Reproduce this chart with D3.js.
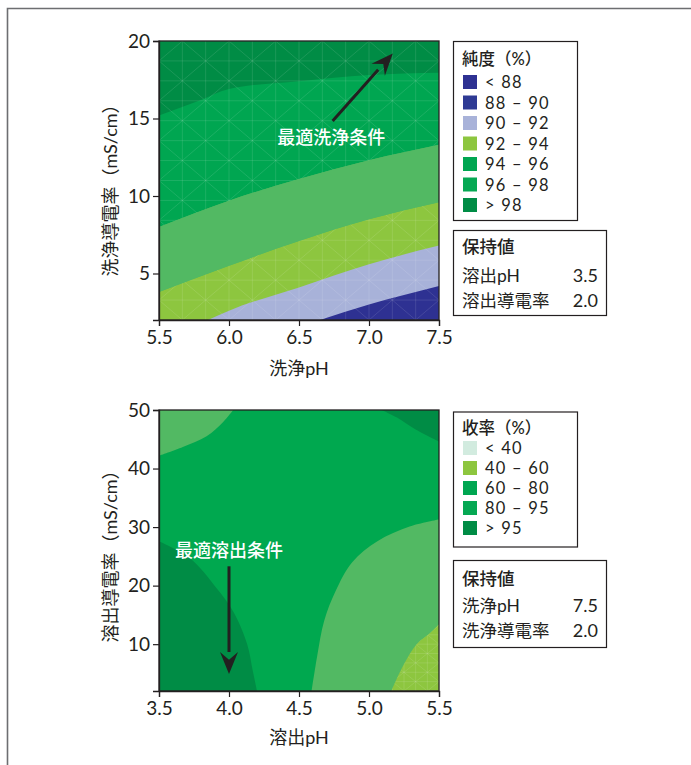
<!DOCTYPE html>
<html>
<head>
<meta charset="utf-8">
<script src="https://cdn.jsdelivr.net/npm/d3@7"></script>
<style>
  html, body { margin: 0; padding: 0; background: #fff; }
  svg { display: block; font-family: "Lato", "Noto Sans CJK JP", "Noto Sans", sans-serif; }
</style>
</head>
<body>
<svg id="chart" width="691" height="765"></svg>
<script>
// ---------- 純度 (洗浄pH × 洗浄導電率) ----------
const purityLabels = ["< 88", "88 – 90", "90 – 92", "92 – 94", "94 – 96", "96 – 98", "> 98"];
const purityXTicks = [5.5, 6.0, 6.5, 7.0, 7.5];
const purityYTicks = [5, 10, 15, 20];
// contour boundaries, [洗浄pH, 洗浄導電率]
const purityEdge98 = [[5.5, 15.2], [5.8, 16.2], [6.0, 16.9], [6.5, 17.4], [7.0, 17.8], [7.5, 17.95]];
const purityEdge96 = [[5.5, 8.0], [6.0, 9.7], [6.5, 11.1], [7.0, 12.3], [7.5, 13.3]];
const purityEdge94 = [[5.5, 3.8], [6.0, 5.5], [6.5, 7.1], [7.0, 8.5], [7.5, 9.6]];
const purityEdge92 = [[5.85, 2], [6.0, 2.6], [6.5, 4.1], [7.0, 5.6], [7.5, 6.8]];
const purityEdge90 = [[6.65, 2], [7.0, 3.0], [7.5, 4.2]];
const purityHeld = [["溶出pH", "3.5"], ["溶出導電率", "2.0"]];

// ---------- 收率 (溶出pH × 溶出導電率) ----------
const yieldLabels = ["< 40", "40 – 60", "60 – 80", "80 – 95", "> 95"];
const yieldXTicks = [3.5, 4.0, 4.5, 5.0, 5.5];
const yieldYTicks = [10, 20, 30, 40, 50];
// contour boundaries, [溶出pH, 溶出導電率]
const yieldTopLeft = [[3.5, 42.2], [3.67, 43.7], [3.84, 45.5], [3.96, 48.0], [4.03, 50]];
const yieldTopRight = [[5.09, 50], [5.2, 48.7], [5.33, 46.7], [5.5, 44.6]];
const yieldBottomLeft = [[3.5, 27.6], [3.72, 24.7], [3.91, 19.6], [4.03, 15.6], [4.13, 10.0], [4.17, 5.4], [4.2, 2]];
const yieldRight = [[4.59, 2], [4.63, 8.0], [4.68, 14.0], [4.76, 19.0], [4.88, 24.0], [5.06, 27.6], [5.29, 30.1], [5.5, 31.3]];
const yieldBottomRight = [[5.16, 2], [5.25, 6.6], [5.34, 10.0], [5.44, 12.0], [5.5, 13.4]];
const yieldHeld = [["洗浄pH", "7.5"], ["洗浄導電率", "2.0"]];

// ---------- styles ----------
const C = {
  navy: "#2e3192", navy2: "#2e3a94", lavender: "#a8b2d9", lime: "#8dc63f",
  light: "#52b963", bright: "#00a651", dark: "#008c45", pale: "#d2ebdf", ink: "#231f20"
};
const purityColors = [C.navy, C.navy2, C.lavender, C.lime, C.bright, "#05a853", C.dark];
const yieldColors = [C.pale, C.lime, C.bright, "#05a853", C.dark];

const svg = d3.select("#chart");

// outer frame
svg.append("path")
  .attr("d", "M7.5,765V8.5H691")
  .attr("fill", "none").attr("stroke", "#6d6e71").attr("stroke-width", 1.6);

const smooth = (x, y) => d3.line().x(d => x(d[0])).y(d => y(d[1])).curve(d3.curveMonotoneX);
const smoothY = (x, y) => d3.line().x(d => x(d[0])).y(d => y(d[1])).curve(d3.curveCatmullRom.alpha(0.5));

// region lying under a boundary line, closed along the bottom edge
function underPath(x, y, pts) {
  const x0 = x.domain()[0], x1 = x.domain()[1], y0 = y.domain()[0];
  const first = pts[0];
  let d = smooth(x, y)(pts) + `L${x(x1)},${y(y0)}L${x(first[0])},${y(y0)}`;
  if (first[1] > y0) d += `L${x(x0)},${y(y0)}`;
  return d + "Z";
}
// band between an upper and a lower boundary spanning the full width
function bandPath(x, y, upper, lower) {
  const lo = smooth(x, y)(lower.slice().reverse().map(d => d)).replace(/^M/, "L");
  return smooth(x, y)(upper) + lo + "Z";
}
// region enclosed by a boundary line and plot corners
function cornerPath(x, y, pts, corners) {
  return smoothY(x, y)(pts) + corners.map(c => `L${x(c[0])},${y(c[1])}`).join("") + "Z";
}
// faint triangulation mesh of the fitted surface
function mesh(p, x, y, nx, ny) {
  const [xa, xb] = x.domain(), [ya, yb] = y.domain();
  const xs = d3.range(nx + 1).map(i => xa + (xb - xa) * i / nx);
  const ys = d3.range(ny + 1).map(j => ya + (yb - ya) * j / ny);
  const segs = [];
  ys.forEach(v => segs.push([[xa, v], [xb, v]]));
  xs.forEach(u => segs.push([[u, ya], [u, yb]]));
  for (let i = 0; i < nx; i++) for (let j = 0; j < ny; j++) {
    segs.push((i + j) % 2 ? [[xs[i], ys[j]], [xs[i + 1], ys[j + 1]]] : [[xs[i], ys[j + 1]], [xs[i + 1], ys[j]]]);
  }
  p.append("g").selectAll("line").data(segs).join("line")
    .attr("x1", d => x(d[0][0])).attr("y1", d => y(d[0][1]))
    .attr("x2", d => x(d[1][0])).attr("y2", d => y(d[1][1]))
    .attr("stroke", "#fff").attr("stroke-opacity", 0.16).attr("stroke-width", 0.7);
}

function panel(opt) {
  const x = d3.scaleLinear().domain(opt.xDomain).range([159, 439]);
  const y = d3.scaleLinear().domain(opt.yDomain).range(opt.yRange);
  const g = svg.append("g");
  const clipId = opt.id + "-clip";
  g.append("clipPath").attr("id", clipId)
    .append("rect").attr("x", x.range()[0]).attr("y", y.range()[1])
    .attr("width", x.range()[1] - x.range()[0]).attr("height", y.range()[0] - y.range()[1]);
  const plot = g.append("g").attr("clip-path", `url(#${clipId})`);
  opt.draw(plot, x, y);

  // frame
  g.append("rect").attr("x", x.range()[0]).attr("y", y.range()[1])
    .attr("width", x.range()[1] - x.range()[0]).attr("height", y.range()[0] - y.range()[1])
    .attr("fill", "none").attr("stroke", C.ink).attr("stroke-width", 1.3);

  const xa = g.append("g").attr("transform", `translate(0,${y.range()[0]})`)
    .call(d3.axisBottom(x).tickValues(opt.xTicks).tickFormat(d3.format(".1f")).tickSize(6).tickPadding(5));
  const ya = g.append("g").attr("transform", `translate(${x.range()[0]},0)`)
    .call(d3.axisLeft(y).tickValues(opt.yTicks).tickFormat(d3.format("d")).tickSize(6).tickPadding(3));
  [xa, ya].forEach(a => {
    a.select(".domain").attr("stroke", C.ink).attr("stroke-width", 1.3);
    a.selectAll(".tick line").attr("stroke", C.ink).attr("stroke-width", 1.2);
    a.selectAll(".tick text").attr("fill", C.ink).attr("font-size", 19)
      .attr("font-family", '"Lato", "Noto Sans CJK JP", sans-serif');
  });

  g.append("text").attr("x", 299).attr("y", opt.xTitleY)
    .attr("text-anchor", "middle").attr("dominant-baseline", "central")
    .attr("font-size", 18).attr("fill", C.ink).text(opt.xTitle);
  g.append("text")
    .attr("transform", `translate(110,${opt.yTitleY}) rotate(-90)`)
    .attr("text-anchor", "middle").attr("dominant-baseline", "central")
    .attr("font-size", 18).attr("fill", C.ink).text(opt.yTitle);

  // annotation arrow
  const a = opt.arrow;
  const x1 = x(a.from[0]), y1 = y(a.from[1]), x2 = x(a.to[0]), y2 = y(a.to[1]);
  const ang = Math.atan2(y2 - y1, x2 - x1);
  const len = 22, half = 9;
  const bx = x2 - len * Math.cos(ang), by = y2 - len * Math.sin(ang);
  g.append("line").attr("x1", x1).attr("y1", y1).attr("x2", bx).attr("y2", by)
    .attr("stroke", C.ink).attr("stroke-width", 3);
  g.append("path")
    .attr("d", `M${x2},${y2}L${bx + half * Math.sin(ang)},${by - half * Math.cos(ang)}` +
      `L${bx + 0.35 * len * Math.cos(ang)},${by + 0.35 * len * Math.sin(ang)}` +
      `L${bx - half * Math.sin(ang)},${by + half * Math.cos(ang)}Z`)
    .attr("fill", C.ink);
  g.append("text").attr("x", x(a.label[0])).attr("y", y(a.label[1]))
    .attr("text-anchor", "middle").attr("dominant-baseline", "central")
    .attr("font-family", '"Noto Sans CJK JP", sans-serif')
    .attr("font-size", 18).attr("font-weight", 500).attr("fill", "#fff").text(a.text);

  // legend boxes
  const L = opt.legend;
  const lg = svg.append("g");
  lg.append("rect").attr("x", 453.5).attr("y", L.top + 0.5).attr("width", 124).attr("height", L.height)
    .attr("fill", "#fff").attr("stroke", C.ink).attr("stroke-width", 1.2);
  lg.append("text").attr("x", 462).attr("y", L.titleY).attr("dominant-baseline", "central")
    .attr("font-size", 16.5).attr("font-weight", 500).attr("fill", C.ink).text(L.title);
  L.labels.forEach((t, i) => {
    const cy = L.firstY + i * L.step;
    lg.append("rect").attr("x", 463).attr("y", cy - 7).attr("width", 14).attr("height", 14).attr("fill", L.colors[i]);
    lg.append("text").attr("x", 485).attr("y", cy).attr("dominant-baseline", "central")
      .attr("font-size", 16.5).attr("letter-spacing", 1.2).attr("fill", C.ink).text(t);
  });

  const H = opt.held;
  lg.append("rect").attr("x", 453.5).attr("y", H.top + 0.5).attr("width", 153).attr("height", H.height)
    .attr("fill", "#fff").attr("stroke", C.ink).attr("stroke-width", 1.2);
  lg.append("text").attr("x", 462).attr("y", H.rows[0]).attr("dominant-baseline", "central")
    .attr("font-size", 17.5).attr("font-weight", 500).attr("fill", C.ink).text("保持値");
  H.values.forEach((r, i) => {
    lg.append("text").attr("x", 462).attr("y", H.rows[i + 1]).attr("dominant-baseline", "central")
      .attr("font-size", 17.5).attr("fill", C.ink).text(r[0]);
    lg.append("text").attr("x", 598).attr("y", H.rows[i + 1]).attr("dominant-baseline", "central")
      .attr("text-anchor", "end").attr("font-size", 18).attr("fill", C.ink).text(r[1]);
  });
}

panel({
  id: "purity",
  xDomain: [5.5, 7.5], yDomain: [2, 20], yRange: [320, 41],
  xTicks: purityXTicks, yTicks: purityYTicks,
  xTitle: "洗浄pH", xTitleY: 368, yTitle: "洗浄導電率（mS/cm）", yTitleY: 186,
  draw(p, x, y) {
    p.append("rect").attr("x", 159).attr("y", 41).attr("width", 280).attr("height", 279).attr("fill", C.dark);
    [[purityEdge98, C.bright], [purityEdge96, C.light], [purityEdge94, C.lime],
     [purityEdge92, C.lavender], [purityEdge90, C.navy]].forEach(([pts, col]) => {
      p.append("path").attr("d", underPath(x, y, pts)).attr("fill", col);
    });
    mesh(p, x, y, 12, 14);
    // the 94–96 band is drawn clean over the mesh
    p.append("path").attr("d", bandPath(x, y, purityEdge96, purityEdge94)).attr("fill", C.light);
  },
  arrow: { from: [6.74, 14.84], to: [7.17, 19.2], label: [6.73, 13.85], text: "最適洗浄条件" },
  legend: { top: 41, height: 179, title: "純度（%）", titleY: 59, firstY: 82, step: 20.5,
            labels: purityLabels, colors: purityColors },
  held: { top: 230, height: 85, rows: [246.5, 275, 300], values: purityHeld }
});

panel({
  id: "yield",
  xDomain: [3.5, 5.5], yDomain: [2, 50], yRange: [691, 410],
  xTicks: yieldXTicks, yTicks: yieldYTicks,
  xTitle: "溶出pH", xTitleY: 737, yTitle: "溶出導電率（mS/cm）", yTitleY: 552,
  draw(p, x, y) {
    p.append("rect").attr("x", 159).attr("y", 410).attr("width", 280).attr("height", 281).attr("fill", "#00a84f");
    p.append("path").attr("d", cornerPath(x, y, yieldTopLeft, [[3.5, 50]])).attr("fill", C.light);
    p.append("path").attr("d", cornerPath(x, y, yieldTopRight, [[5.5, 50]])).attr("fill", C.dark);
    p.append("path").attr("d", cornerPath(x, y, yieldBottomLeft, [[3.5, 2]])).attr("fill", C.dark);
    p.append("path").attr("d", cornerPath(x, y, yieldRight, [[5.5, 2]])).attr("fill", C.light);
    const lime = cornerPath(x, y, yieldBottomRight, [[5.5, 2]]);
    p.append("path").attr("d", lime).attr("fill", C.lime);
    p.append("clipPath").attr("id", "yield-lime").append("path").attr("d", lime);
    const m = p.append("g").attr("clip-path", "url(#yield-lime)");
    mesh(m, x, y, 24, 30);
  },
  arrow: { from: [4.0, 23.3], to: [4.0, 4.9], label: [4.0, 26.3], text: "最適溶出条件" },
  legend: { top: 411.5, height: 135, title: "收率（%）", titleY: 427.5, firstY: 448, step: 20,
            labels: yieldLabels, colors: yieldColors },
  held: { top: 560, height: 87, rows: [578, 605, 630], values: yieldHeld }
});
</script>
</body>
</html>
